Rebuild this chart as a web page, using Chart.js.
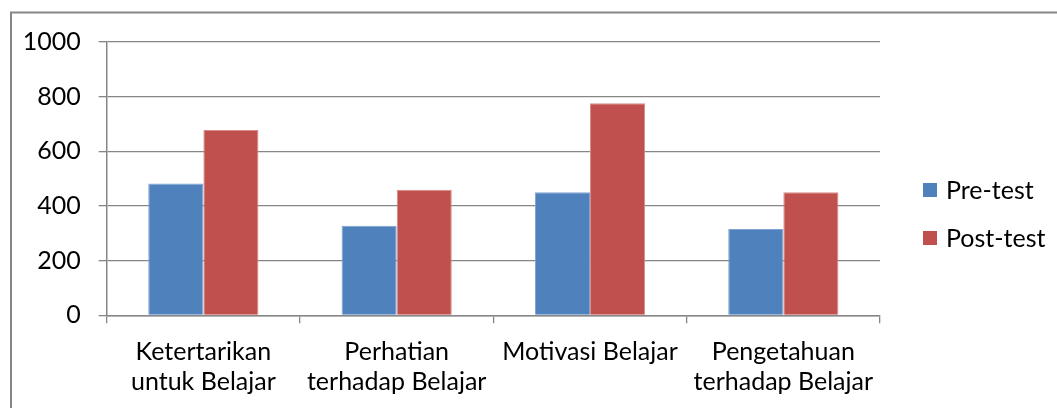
<!DOCTYPE html>
<html>
<head>
<meta charset="utf-8">
<script src="https://cdn.jsdelivr.net/npm/chart.js@4"></script>
<style>
html,body{margin:0;padding:0;background:#fff;}
canvas{display:block;}
</style>
</head>
<body>
<canvas id="c" width="1057" height="408"></canvas>
<script>
const categories = [
  ["Ketertarikan", "untuk Belajar"],
  ["Perhatian", "terhadap Belajar"],
  ["Motivasi Belajar"],
  ["Pengetahuan", "terhadap Belajar"]
];
const seriesNames = ["Pre-test", "Post-test"];
const preTest = [482, 328, 450, 316];
const postTest = [678, 459, 776, 450];
const yTicks = [0, 200, 400, 600, 800, 1000];

const FONT = "Lato, 'Open Sans', 'Noto Sans', sans-serif";
const GRID = '#868686';
const colors = ['#4F81BD', '#C0504D'];
const borderColors = ['#7FA3D3', '#D98C8A'];

const frame = {
  id: 'frame',
  beforeDraw(chart) {
    const ctx = chart.ctx;
    ctx.save();
    ctx.fillStyle = '#fff';
    ctx.fillRect(0, 0, chart.width, chart.height);
    ctx.strokeStyle = GRID;
    ctx.lineWidth = 2;
    ctx.strokeRect(11, 12.5, chart.width + 10, chart.height + 10);
    ctx.restore();
  }
};

const customLegend = {
  id: 'customLegend',
  afterDraw(chart) {
    const ctx = chart.ctx;
    ctx.save();
    ctx.font = '25px ' + FONT;
    ctx.textBaseline = 'middle';
    ctx.textAlign = 'left';
    const ys = [190, 238];
    chart.data.datasets.forEach((ds, i) => {
      ctx.fillStyle = ds.backgroundColor;
      ctx.fillRect(923, ys[i] - 7, 14, 14);
      ctx.fillStyle = '#000';
      ctx.fillText(ds.label, 946, ys[i] + 1);
    });
    ctx.restore();
  }
};

new Chart(document.getElementById('c'), {
  type: 'bar',
  data: {
    labels: categories,
    datasets: [
      { label: seriesNames[0], data: preTest, backgroundColor: colors[0], borderColor: borderColors[0], borderWidth: 1 },
      { label: seriesNames[1], data: postTest, backgroundColor: colors[1], borderColor: borderColors[1], borderWidth: 1 }
    ]
  },
  options: {
    responsive: false,
    devicePixelRatio: 1,
    animation: false,
    layout: { padding: { left: 10, right: 177, top: 42, bottom: 0 } },
    datasets: { bar: { categoryPercentage: 0.57, barPercentage: 1.0 } },
    plugins: { legend: { display: false }, tooltip: { enabled: false } },
    scales: {
      x: {
        grid: { offset: true, drawOnChartArea: false, color: GRID, tickLength: 8, lineWidth: 1.3 },
        border: { color: GRID, width: 1.5 },
        ticks: { color: '#000', font: { family: FONT, size: 25, lineHeight: 1.22 }, padding: 13, maxRotation: 0, autoSkip: false },
        afterFit(s) { s.height = 92.7; }
      },
      y: {
        min: 0, max: 1000,
        afterBuildTicks(s) { s.ticks = yTicks.map(v => ({ value: v })); },
        grid: { color: GRID, tickLength: 8, lineWidth: 1.3 },
        border: { color: GRID, width: 1.5 },
        ticks: { color: '#000', font: { family: FONT, size: 25 }, padding: 18, callback: v => String(v) },
        afterFit(s) { s.width = 96.7; }
      }
    }
  },
  plugins: [frame, customLegend]
});
</script>
</body>
</html>
